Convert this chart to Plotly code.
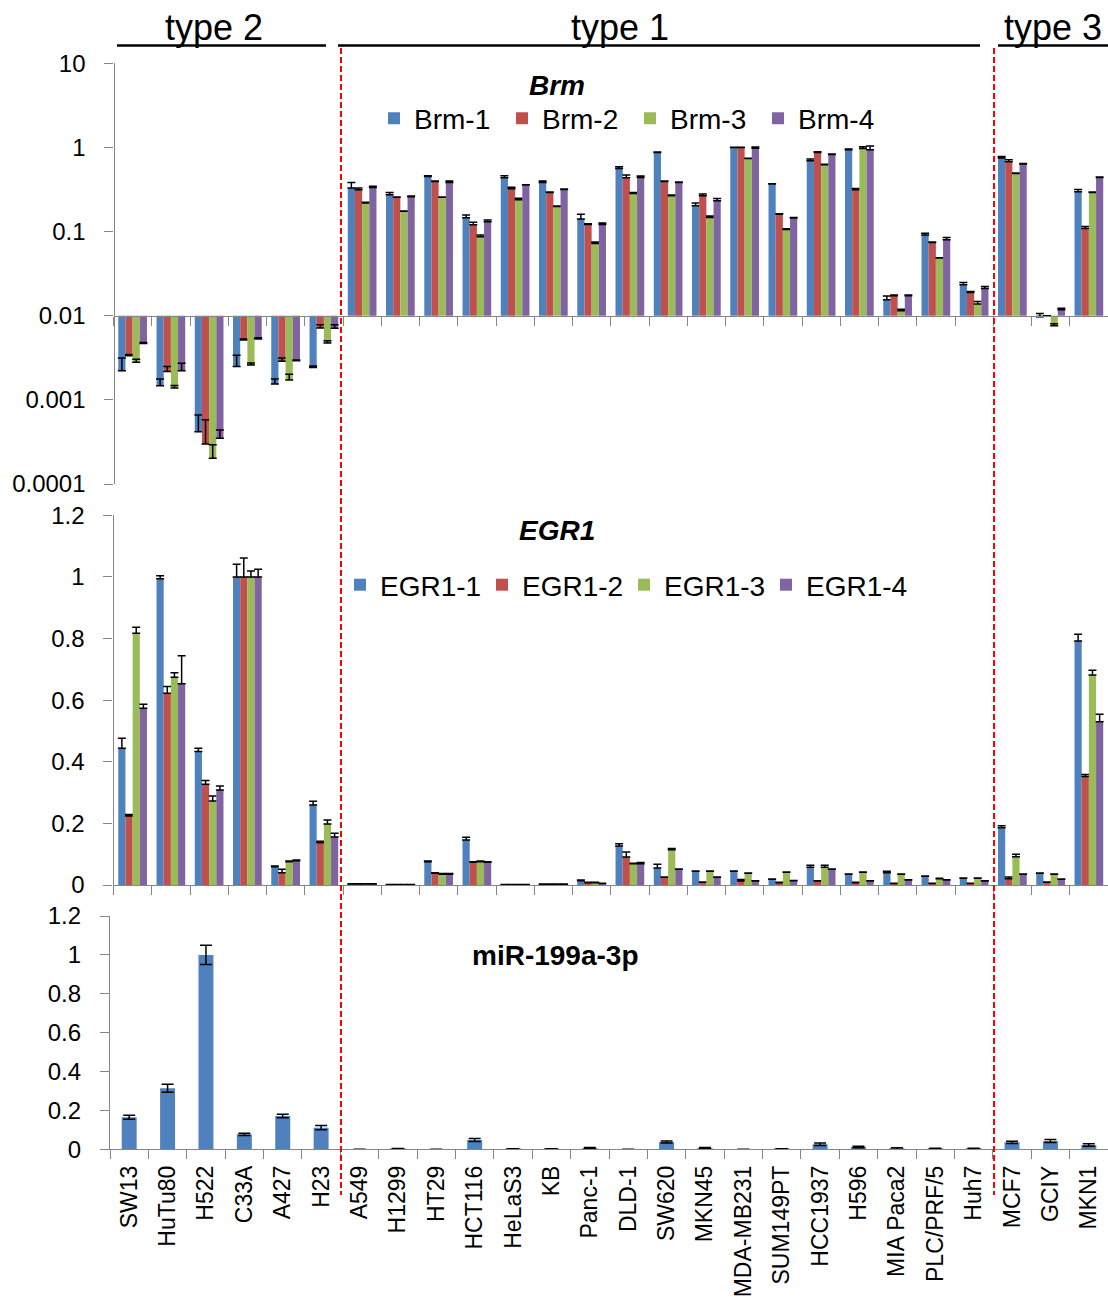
import plotly.graph_objects as go

# ---------------- data ----------------
categories = ["SW13", "HuTu80", "H522", "C33A", "A427", "H23",
              "A549", "H1299", "HT29", "HCT116", "HeLaS3", "KB", "Panc-1", "DLD-1",
              "SW620", "MKN45", "MDA-MB231", "SUM149PT", "HCC1937", "H596",
              "MIA Paca2", "PLC/PRF/5", "Huh7", "MCF7", "GCIY", "MKN1"]

brm_names = ["Brm-1", "Brm-2", "Brm-3", "Brm-4"]
brm1 = [0.00222, 0.00147, 0.000419, 0.0025, 0.00154, 0.00243, 0.329, 0.274, 0.452, 0.146, 0.436, 0.384, 0.141,
        0.563, 0.873, 0.203, 1.0, 0.367, 0.695, 0.938, 0.0155, 0.0908, 0.0233, 0.747, 0.0097, 0.297]
brm1_err = [0.00092, 0.0003, 0.00024, 0.0009, 0.00023, 0.00009, 0.055, 0.018, 0.008, 0.011, 0.025, 0.014, 0.02,
            0.025, 0.01, 0.015, 0.005, 0.004, 0.032, 0.02, 0.0016, 0.005, 0.0016, 0.034, 0.0009, 0.02]
brm2 = [0.00335, 0.00218, 0.000299, 0.00514, 0.00287, 0.00713, 0.314, 0.255, 0.394, 0.1205, 0.323, 0.292, 0.1217,
        0.436, 0.394, 0.267, 1.0, 0.161, 0.873, 0.314, 0.0173, 0.0744, 0.0189, 0.676, 0.0099, 0.109]
brm2_err = [0.0001, 0.00032, 0.00028, 0.00015, 0.00027, 0.0007, 0.015, 0.003, 0.004, 0.009, 0.014, 0.003, 0.002,
            0.033, 0.004, 0.012, 0.005, 0.002, 0.015, 0.012, 0.0003, 0.001, 0.0005, 0.037, 0.0001, 0.006]
brm3 = [0.00279, 0.00138, 0.000202, 0.0026, 0.00172, 0.00474, 0.218, 0.174, 0.255, 0.0868, 0.239, 0.199, 0.0723,
        0.284, 0.267, 0.147, 0.74, 0.106, 0.622, 0.973, 0.01147, 0.0484, 0.01376, 0.491, 0.0076, 0.292]
brm3_err = [0.00024, 0.0001, 0.00009, 0.00014, 0.0003, 0.0003, 0.005, 0.002, 0.003, 0.004, 0.01, 0.003, 0.003,
            0.008, 0.005, 0.006, 0.005, 0.002, 0.01, 0.045, 0.0005, 0.0005, 0.001, 0.005, 0.0004, 0.004]
brm4 = [0.00469, 0.00222, 0.000349, 0.00528, 0.00292, 0.0071, 0.335, 0.259, 0.384, 0.131, 0.357, 0.317, 0.1217,
        0.44, 0.384, 0.232, 0.98, 0.145, 0.826, 0.938, 0.0173, 0.08, 0.0211, 0.634, 0.0118, 0.44]
brm4_err = [0.00013, 0.0005, 0.00009, 0.0002, 0.00005, 0.0007, 0.01, 0.005, 0.014, 0.006, 0.003, 0.003, 0.005,
            0.018, 0.004, 0.016, 0.03, 0.002, 0.008, 0.1, 0.0003, 0.005, 0.0012, 0.01, 0.0005, 0.005]
brm_base = 0.01
brm_ticks = [0.0001, 0.001, 0.01, 0.1, 1, 10]
brm_ticktext = ["0.0001", "0.001", "0.01", "0.1", "1", "10"]

egr_names = ["EGR1-1", "EGR1-2", "EGR1-3", "EGR1-4"]
egr1 = [0.444, 0.994, 0.433, 1.0, 0.0595, 0.26, 0.003, 0.001, 0.0758, 0.146, 0.001, 0.002, 0.014, 0.1266,
        0.055, 0.0444, 0.0444, 0.0184, 0.058, 0.0346, 0.04, 0.028, 0.0216, 0.186, 0.038, 0.792]
egr1_err = [0.032, 0.01, 0.011, 0.041, 0.002, 0.012, 0.001, 0.001, 0.002, 0.009, 0.001, 0.001, 0.002, 0.007,
            0.012, 0.001, 0.001, 0.001, 0.006, 0.001, 0.005, 0.001, 0.001, 0.006, 0.001, 0.022]
egr2 = [0.224, 0.622, 0.327, 1.0, 0.04, 0.137, 0.003, 0.001, 0.038, 0.0736, 0.001, 0.002, 0.0076, 0.091,
        0.025, 0.0087, 0.013, 0.0076, 0.013, 0.0076, 0.005, 0.005, 0.005, 0.0206, 0.0087, 0.352]
egr2_err = [0.005, 0.022, 0.012, 0.061, 0.011, 0.005, 0.001, 0.001, 0.002, 0.002, 0.001, 0.001, 0.001, 0.016,
            0.001, 0.001, 0.005, 0.001, 0.001, 0.001, 0.001, 0.001, 0.001, 0.005, 0.001, 0.007]
egr3 = [0.817, 0.674, 0.273, 1.0, 0.0758, 0.198, 0.003, 0.001, 0.035, 0.0758, 0.001, 0.002, 0.0076, 0.069,
        0.1147, 0.0444, 0.038, 0.041, 0.058, 0.041, 0.0346, 0.0206, 0.0216, 0.092, 0.0346, 0.682]
egr3_err = [0.02, 0.015, 0.016, 0.019, 0.002, 0.013, 0.001, 0.001, 0.002, 0.002, 0.001, 0.001, 0.001, 0.002,
            0.004, 0.001, 0.001, 0.001, 0.006, 0.001, 0.001, 0.001, 0.001, 0.008, 0.001, 0.015]
egr4 = [0.574, 0.653, 0.308, 1.0, 0.079, 0.156, 0.003, 0.001, 0.035, 0.0736, 0.001, 0.002, 0.005, 0.069,
        0.051, 0.025, 0.013, 0.014, 0.051, 0.013, 0.016, 0.016, 0.013, 0.0346, 0.0184, 0.53]
egr4_err = [0.013, 0.091, 0.013, 0.025, 0.002, 0.012, 0.001, 0.001, 0.002, 0.002, 0.001, 0.001, 0.001, 0.004,
            0.001, 0.001, 0.001, 0.001, 0.001, 0.001, 0.001, 0.001, 0.001, 0.001, 0.001, 0.024]

mir = [0.165, 0.314, 1.0, 0.077, 0.171, 0.111, 0, 0.002, 0, 0.048, 0.002, 0.002, 0.006, 0,
       0.038, 0.006, 0, 0.002, 0.026, 0.012, 0.002, 0.003, 0.003, 0.036, 0.043, 0.022]
mir_err = [0.01, 0.02, 0.05, 0.006, 0.009, 0.011, 0, 0.002, 0, 0.008, 0.001, 0.001, 0.003, 0,
           0.005, 0.003, 0, 0.001, 0.006, 0.004, 0.006, 0.002, 0.002, 0.006, 0.008, 0.006]

linear_ticks = [0, 0.2, 0.4, 0.6, 0.8, 1.0, 1.2]
linear_ticktext = ["0", "0.2", "0.4", "0.6", "0.8", "1", "1.2"]

group_labels = ["type 2", "type 1", "type 3"]

# ---------------- layout helpers ----------------
W, H = 1108, 1297


def fx(px):
    return px / W


def fy(py):
    return 1 - py / H


colors = ['#4F81BD', '#C0504D', '#9BBB59', '#8064A2']
FONT = 'Arial, "Liberation Sans", Helvetica, sans-serif'
AXC = '#868686'

X12_DOM = [fx(113.5), 1.0]
X3_DOM = [fx(110), 1.0]
Y1_DOM = [fy(484), fy(63.3)]
Y2_DOM = [fy(885), fy(515.3)]
Y3_DOM = [fy(1149.3), fy(916)]
# 0.01 sits at 2 of 5 decades above the bottom of the log range [-4, 1]
x1_pos = Y1_DOM[0] + (Y1_DOM[1] - Y1_DOM[0]) * 2 / 5

n = len(categories)
fig = go.Figure()

brm_vals = [brm1, brm2, brm3, brm4]
brm_errs = [brm1_err, brm2_err, brm3_err, brm4_err]
for i in range(4):
    fig.add_trace(go.Bar(
        x=categories, y=[v - brm_base for v in brm_vals[i]], base=brm_base,
        name=brm_names[i], marker_color=colors[i], marker_line_width=0,
        error_y=dict(type='data', symmetric=False, array=brm_errs[i], arrayminus=[0] * n,
                     color='black', thickness=1.5, width=4),
        xaxis='x', yaxis='y', legend='legend'))

egr_vals = [egr1, egr2, egr3, egr4]
egr_errs = [egr1_err, egr2_err, egr3_err, egr4_err]
for i in range(4):
    fig.add_trace(go.Bar(
        x=categories, y=egr_vals[i], name=egr_names[i], marker_color=colors[i], marker_line_width=0,
        error_y=dict(type='data', symmetric=False, array=egr_errs[i], arrayminus=[0] * n,
                     color='black', thickness=1.5, width=4),
        xaxis='x2', yaxis='y2', legend='legend2'))

fig.add_trace(go.Bar(
    x=categories, y=mir, name='miR-199a-3p', marker_color=colors[0], marker_line_width=0, width=0.39,
    error_y=dict(type='data', array=mir_err, color='black', thickness=1.5, width=6),
    xaxis='x3', yaxis='y3', showlegend=False))

common = dict(showgrid=False, zeroline=False, showline=True, linecolor=AXC, linewidth=1.3,
              ticks='outside', tickcolor=AXC, tickwidth=1.3, automargin=False)
xcat = dict(type='category', categoryorder='array', categoryarray=categories,
            tickson='boundaries', range=[-0.5, n - 0.5], ticklen=9, **common)
ycommon = dict(ticklen=9, tickfont=dict(size=24), ticklabelstandoff=14, **common)

fig.update_layout(
    width=W, height=H, margin=dict(l=0, r=0, t=0, b=0, pad=0, autoexpand=False),
    plot_bgcolor='white', paper_bgcolor='white',
    font=dict(family=FONT, color='black', size=24),
    barmode='group', bargap=0.25, bargroupgap=0,
    xaxis=dict(domain=X12_DOM, anchor='free', position=x1_pos, showticklabels=False, **xcat),
    yaxis=dict(domain=Y1_DOM, anchor='free', position=X12_DOM[0], type='log', range=[-4, 1],
               tickvals=brm_ticks, ticktext=brm_ticktext, **ycommon),
    xaxis2=dict(domain=X12_DOM, anchor='y2', showticklabels=False, **xcat),
    yaxis2=dict(domain=Y2_DOM, anchor='x2', range=[0, 1.2], tickvals=linear_ticks,
                ticktext=linear_ticktext, **ycommon),
    xaxis3=dict(domain=X3_DOM, anchor='y3', tickangle=-90, tickfont=dict(size=23),
                ticklabelstandoff=6, **xcat),
    yaxis3=dict(domain=Y3_DOM, anchor='x3', range=[0, 1.2], tickvals=linear_ticks,
                ticktext=linear_ticktext, **ycommon),
    legend=dict(orientation='h', x=fx(374), xanchor='left', y=fy(118.5), yanchor='middle',
                font=dict(size=28), entrywidth=83, bgcolor='rgba(0,0,0,0)', traceorder='normal'),
    legend2=dict(orientation='h', x=fx(340), xanchor='left', y=fy(585), yanchor='middle',
                 font=dict(size=28), entrywidth=97, bgcolor='rgba(0,0,0,0)', traceorder='normal'),
)

# group labels and their underlines
label_x = [214, 620, 1053]
line_spans = [(117, 326), (338, 980), (998, 1108)]
for lab, lx, (a, b) in zip(group_labels, label_x, line_spans):
    fig.add_annotation(text=lab, x=fx(lx), y=fy(28), xref='paper', yref='paper',
                       xanchor='center', yanchor='middle', showarrow=False, font=dict(size=36))
    fig.add_shape(type='line', xref='paper', yref='paper', x0=fx(a), x1=fx(b), y0=fy(45.5), y1=fy(45.5),
                  line=dict(color='black', width=2.5))

# red dashed separators
for sx in [341, 994]:
    fig.add_shape(type='line', xref='paper', yref='paper', x0=fx(sx), x1=fx(sx), y0=fy(48), y1=fy(1195),
                  line=dict(color='#FF0000', width=2, dash='6px,3px'))

# panel titles
titles = [('<b><i>Brm</i></b>', 557, 85), ('<b><i>EGR1</i></b>', 557, 530), ('<b>miR-199a-3p</b>', 555, 955)]
for txt, tx, ty in titles:
    fig.add_annotation(text=txt, x=fx(tx), y=fy(ty), xref='paper', yref='paper',
                       xanchor='center', yanchor='middle', showarrow=False, font=dict(size=28))

fig.write_html("out.html")
